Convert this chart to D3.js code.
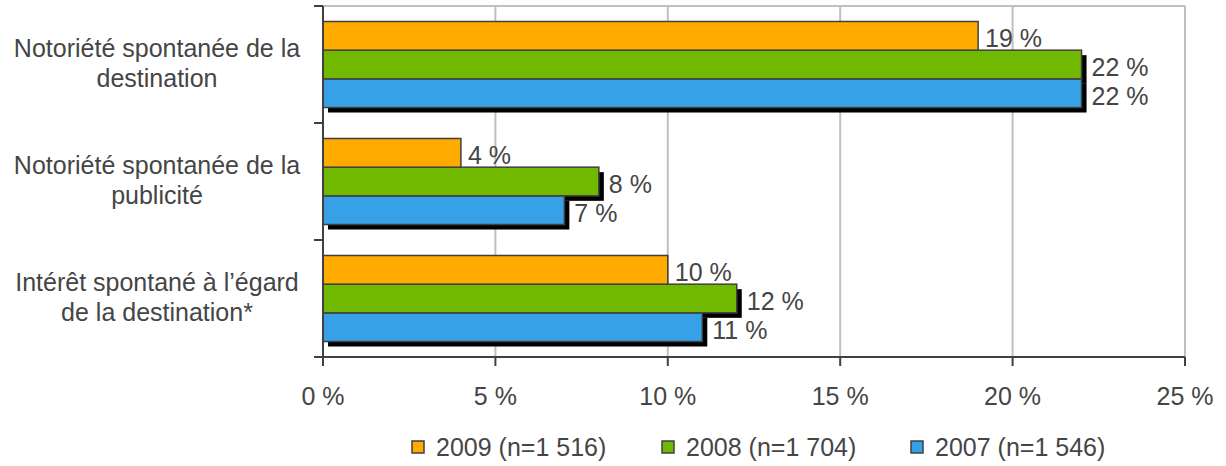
<!DOCTYPE html>
<html>
<head>
<meta charset="utf-8">
<script src="https://cdn.jsdelivr.net/npm/d3@7"></script>
<style>
  html, body { margin: 0; padding: 0; background: #fff; overflow: hidden; }
  svg { display: block; }
  text { font-family: "Liberation Sans", Arial, sans-serif; fill: #454545; }
</style>
</head>
<body>
<svg id="chart"></svg>
<script>
/* data */
var categories = [
  ["Notoriété spontanée de la", "destination"],
  ["Notoriété spontanée de la", "publicité"],
  ["Intérêt spontané à l’égard", "de la destination*"]
];
var series = ["2009 (n=1 516)", "2008 (n=1 704)", "2007 (n=1 546)"];
var values2009 = [19, 4, 10];
var values2008 = [22, 8, 12];
var values2007 = [22, 7, 11];
var xTicks = [0, 5, 10, 15, 20, 25];
var colors = ["#FFAB00", "#70B900", "#36A1E6"];

var seriesValues = [values2009, values2008, values2007];

/* settings */
var width = 1226,
    height = 466,
    margin = { top: 6, left: 323, right: 41, bottom: 109 },
    innerWidth = width - margin.left - margin.right,
    innerHeight = height - margin.top - margin.bottom,
    axisColor = "#404040",
    gridColor = "#c0c0c0",
    fontSize = 25;

var svg = d3.select("#chart")
    .attr("width", width)
    .attr("height", height);

var g = svg.append("g")
    .attr("transform", "translate(" + margin.left + "," + margin.top + ")");

/* scales */
var xScale = d3.scaleLinear().domain([0, 25]).range([0, innerWidth]);
var yScale = d3.scaleBand().domain(d3.range(categories.length)).range([0, innerHeight]);
var ySub = d3.scaleBand().domain(d3.range(series.length))
    .range([0, yScale.bandwidth()])
    .paddingOuter(0.54);

/* grid */
g.selectAll(".grid")
  .data(xTicks.slice(1))
  .enter().append("line")
    .attr("class", "grid")
    .attr("x1", function(d) { return xScale(d); })
    .attr("x2", function(d) { return xScale(d); })
    .attr("y1", 0)
    .attr("y2", innerHeight)
    .attr("stroke", gridColor)
    .attr("stroke-width", 2);

g.append("line")
    .attr("x1", 0).attr("x2", innerWidth)
    .attr("y1", 0).attr("y2", 0)
    .attr("stroke", gridColor)
    .attr("stroke-width", 2);

/* bars */
var groups = g.selectAll(".cat")
  .data(categories)
  .enter().append("g")
    .attr("class", "cat")
    .attr("transform", function(d, i) { return "translate(0," + yScale(i) + ")"; });

groups.each(function(c, ci) {
  var grp = d3.select(this);
  /* shadows first (none visible for the top series), then bars */
  for (var si = series.length - 1; si > 0; si--) {
    grp.append("rect")
      .attr("x", 5)
      .attr("y", ySub(si) + 5)
      .attr("width", xScale(seriesValues[si][ci]))
      .attr("height", ySub.bandwidth())
      .attr("fill", "#000");
  }
  for (var si = series.length - 1; si >= 0; si--) {
    grp.append("rect")
      .attr("x", 0)
      .attr("y", ySub(si))
      .attr("width", xScale(seriesValues[si][ci]))
      .attr("height", ySub.bandwidth())
      .attr("fill", colors[si])
      .attr("stroke", "#404040")
      .attr("stroke-width", 1.5);
  }
  for (var si = 0; si < series.length; si++) {
    var v = seriesValues[si][ci];
    grp.append("text")
      .attr("x", xScale(v) + (si > 0 ? 10 : 7))
      .attr("y", ySub(si) + ySub.bandwidth() / 2 + 11.5)
      .style("font-size", fontSize + "px")
      .text(v + " %");
  }
});

/* y axis */
g.append("line")
    .attr("x1", 0).attr("x2", 0)
    .attr("y1", 0).attr("y2", innerHeight)
    .attr("stroke", axisColor).attr("stroke-width", 2);

g.selectAll(".ytick")
  .data(d3.range(categories.length + 1))
  .enter().append("line")
    .attr("x1", -9).attr("x2", 0)
    .attr("y1", function(d) { return d < categories.length ? yScale(d) : innerHeight; })
    .attr("y2", function(d) { return d < categories.length ? yScale(d) : innerHeight; })
    .attr("stroke", axisColor).attr("stroke-width", 2);

g.selectAll(".ylabel")
  .data(categories)
  .enter().append("text")
    .attr("class", "ylabel")
    .attr("text-anchor", "middle")
    .style("font-size", fontSize + "px")
    .each(function(d, i) {
      var t = d3.select(this);
      var cy = yScale(i) + yScale.bandwidth() / 2;
      d.forEach(function(line, li) {
        t.append("tspan")
          .attr("x", -166)
          .attr("y", cy + (li === 0 ? -7.5 : 22.5))
          .text(line);
      });
    });

/* x axis */
g.append("line")
    .attr("x1", -9).attr("x2", innerWidth)
    .attr("y1", innerHeight).attr("y2", innerHeight)
    .attr("stroke", axisColor).attr("stroke-width", 2);

g.selectAll(".xtick")
  .data(xTicks)
  .enter().append("line")
    .attr("x1", function(d) { return xScale(d); })
    .attr("x2", function(d) { return xScale(d); })
    .attr("y1", innerHeight).attr("y2", innerHeight + 9)
    .attr("stroke", axisColor).attr("stroke-width", 2);

g.selectAll(".xlabel")
  .data(xTicks)
  .enter().append("text")
    .attr("x", function(d) { return xScale(d); })
    .attr("y", innerHeight + 48)
    .attr("text-anchor", "middle")
    .style("font-size", fontSize + "px")
    .text(function(d) { return d + " %"; });

/* legend */
var legendX = [412, 662, 911];
var legend = svg.selectAll(".legend")
  .data(series)
  .enter().append("g")
    .attr("transform", function(d, i) { return "translate(" + legendX[i] + ",447)"; });

legend.append("rect")
    .attr("x", 0).attr("y", -6)
    .attr("width", 12).attr("height", 12)
    .attr("fill", function(d, i) { return colors[i]; })
    .attr("stroke", "#404040").attr("stroke-width", 1.5);

legend.append("text")
    .attr("x", 24).attr("y", 9)
    .style("font-size", fontSize + "px")
    .text(function(d) { return d; });
</script>
</body>
</html>
